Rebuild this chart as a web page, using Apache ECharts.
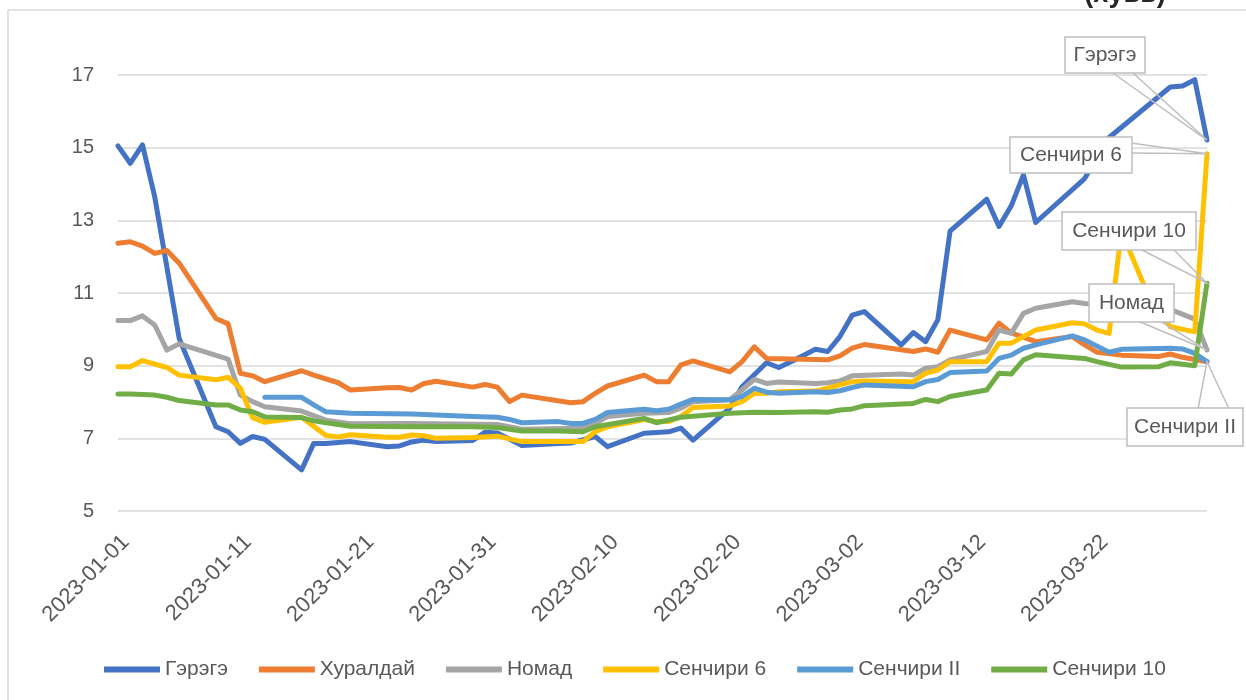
<!DOCTYPE html>
<html><head><meta charset="utf-8">
<script src="https://cdn.jsdelivr.net/npm/echarts/dist/echarts.min.js"></script>
<style>html,body{margin:0;padding:0;background:#fff}#c{width:1246px;height:700px}</style>
</head><body><div id="c"></div>
<script>
// ---- data ----
const startYear = 2023, dayCount = 90;
const yTicks = [5, 7, 9, 11, 13, 15, 17];
const seriesNames = ['Гэрэгэ', 'Хуралдай', 'Номад', 'Сенчири 6', 'Сенчири II', 'Сенчири 10'];
// [day index from 2023-01-01, value]
const gerege = [[0,15.05],[1,14.57],[2,15.08],[3,13.65],[5,9.75],[8,7.32],[9,7.18],[10,6.86],[11,7.05],[12,6.97],[15,6.13],[16,6.86],[17,6.86],[19,6.91],[22,6.77],[23,6.79],[24,6.9],[25,6.95],[26,6.91],[29,6.94],[30,7.17],[31,7.15],[33,6.8],[36,6.86],[37,6.87],[39,7.05],[40,6.77],[43,7.14],[45,7.18],[46,7.28],[47,6.95],[50,7.83],[51,8.42],[53,9.08],[54,8.95],[55,9.11],[57,9.45],[58,9.39],[59,9.8],[60,10.39],[61,10.49],[64,9.57],[65,9.91],[66,9.66],[67,10.26],[68,12.7],[71,13.58],[72,12.83],[73,13.4],[74,14.25],[75,12.94],[79,14.15],[81,15.28],[86,16.67],[87,16.7],[88,16.87],[89,15.21]];
const khuraldai = [[0,12.37],[1,12.41],[2,12.29],[3,12.09],[4,12.17],[5,11.82],[8,10.3],[9,10.15],[10,8.79],[11,8.72],[12,8.56],[15,8.86],[16,8.74],[18,8.53],[19,8.33],[22,8.39],[23,8.4],[24,8.33],[25,8.51],[26,8.57],[29,8.41],[30,8.48],[31,8.41],[32,8.01],[33,8.19],[37,7.98],[38,8.01],[39,8.24],[40,8.44],[43,8.74],[44,8.56],[45,8.56],[46,9.02],[47,9.13],[50,8.83],[51,9.11],[52,9.52],[53,9.2],[57,9.17],[58,9.16],[59,9.27],[60,9.48],[61,9.58],[65,9.39],[66,9.46],[67,9.37],[68,9.98],[71,9.71],[72,10.17],[73,9.9],[75,9.66],[78,9.8],[79,9.57],[80,9.37],[82,9.29],[85,9.25],[86,9.32],[87,9.23],[89,9.11]];
const nomad = [[0,10.24],[1,10.24],[2,10.37],[3,10.12],[4,9.43],[5,9.6],[9,9.18],[10,8.19],[11,8.01],[12,7.87],[15,7.75],[17,7.5],[19,7.4],[24,7.41],[31,7.38],[33,7.25],[38,7.28],[39,7.41],[40,7.6],[43,7.69],[45,7.71],[46,7.83],[47,8.01],[50,8.06],[51,8.33],[52,8.62],[53,8.51],[54,8.55],[57,8.51],[58,8.53],[59,8.58],[60,8.72],[64,8.77],[65,8.74],[66,8.93],[67,8.97],[68,9.16],[71,9.39],[72,9.98],[73,9.89],[74,10.44],[75,10.58],[78,10.76],[79,10.71],[82,10.65],[86,10.55],[88,10.28],[89,9.43]];
const senchiri6 = [[0,8.97],[1,8.97],[2,9.14],[4,8.95],[5,8.74],[8,8.61],[9,8.68],[10,8.38],[11,7.57],[12,7.44],[15,7.58],[17,7.08],[18,7.04],[19,7.1],[22,7.03],[23,7.03],[24,7.09],[25,7.07],[26,7.0],[29,7.02],[31,7.06],[33,6.91],[36,6.91],[38,6.91],[39,7.18],[40,7.32],[43,7.52],[44,7.46],[45,7.46],[46,7.6],[47,7.85],[50,7.89],[51,8.01],[52,8.24],[53,8.24],[54,8.28],[57,8.3],[58,8.38],[59,8.47],[60,8.56],[61,8.58],[65,8.56],[66,8.79],[67,8.88],[68,9.11],[71,9.11],[72,9.62],[73,9.62],[74,9.8],[75,9.98],[78,10.18],[79,10.15],[80,9.98],[81,9.89],[82,12.7],[84,11.1],[86,10.07],[88,9.93],[89,14.83]];
const senchiriII = [[12,8.13],[15,8.13],[16,7.92],[17,7.73],[19,7.69],[24,7.67],[26,7.64],[29,7.6],[31,7.58],[32,7.52],[33,7.43],[36,7.46],[37,7.41],[38,7.41],[39,7.52],[40,7.71],[43,7.8],[44,7.76],[45,7.8],[46,7.94],[47,8.07],[50,8.06],[51,8.15],[52,8.38],[53,8.27],[54,8.24],[57,8.28],[58,8.26],[59,8.31],[60,8.4],[61,8.47],[65,8.42],[66,8.56],[67,8.62],[68,8.81],[71,8.85],[72,9.2],[73,9.29],[74,9.48],[75,9.57],[78,9.82],[79,9.71],[81,9.37],[82,9.45],[86,9.48],[87,9.46],[88,9.34],[89,9.11]];
const senchiri10 = [[0,8.22],[1,8.22],[3,8.19],[4,8.13],[5,8.04],[8,7.92],[9,7.92],[10,7.78],[11,7.73],[12,7.59],[15,7.57],[16,7.48],[17,7.43],[19,7.33],[24,7.32],[29,7.32],[31,7.3],[33,7.2],[36,7.2],[38,7.18],[39,7.32],[43,7.55],[44,7.43],[46,7.58],[50,7.69],[52,7.72],[54,7.71],[57,7.73],[58,7.72],[59,7.78],[60,7.81],[61,7.9],[65,7.96],[66,8.07],[67,8.01],[68,8.15],[71,8.33],[72,8.79],[73,8.77],[74,9.16],[75,9.3],[79,9.2],[80,9.11],[82,8.96],[85,8.97],[86,9.08],[88,9.0],[89,11.27]];
const seriesData = [gerege, khuraldai, nomad, senchiri6, senchiriII, senchiri10];
const colors = ['#4472C4', '#ED7D31', '#A5A5A5', '#FFC000', '#5B9BD5', '#70AD47'];

const categories = [];
for (let i = 0; i < dayCount; i++) {
  const d = new Date(Date.UTC(startYear, 0, 1 + i));
  categories.push(d.toISOString().slice(0, 10));
}

const FONT = '"Liberation Sans", Arial, sans-serif';
const TXT = '#595959';
const chart = echarts.init(document.getElementById('c'), null, {renderer: 'canvas'});
chart.setOption({
  animation: false,
  backgroundColor: '#fff',
  grid: {left: 118, right: 39, top: 75, bottom: 189, containLabel: false},
  xAxis: {
    type: 'category', data: categories, boundaryGap: false,
    axisLine: {show: false}, axisTick: {show: false},
    axisLabel: {interval: 9, rotate: 45, fontSize: 22, color: TXT, fontFamily: FONT, margin: 20, align: 'right', verticalAlign: 'top'},
    splitLine: {show: false}
  },
  yAxis: {
    type: 'value', min: yTicks[0], max: yTicks[yTicks.length - 1], interval: 2,
    axisLine: {show: false}, axisTick: {show: false},
    axisLabel: {fontSize: 20, color: TXT, fontFamily: FONT, margin: 24},
    splitLine: {lineStyle: {color: '#D9D9D9', width: 1.5}}
  },
  legend: {
    left: 99, top: 654, icon: 'rect', itemWidth: 56, itemHeight: 6, itemGap: 31,
    textStyle: {fontSize: 21, color: TXT, fontFamily: FONT},
    data: seriesNames
  },
  series: seriesNames.map((n, i) => ({
    name: n, type: 'line', data: seriesData[i], showSymbol: false, connectNulls: true,
    color: colors[i],
    lineStyle: {width: 5, color: colors[i], cap: 'round', join: 'round'}
  }))
});

// callouts at last points
const callouts = [
  {idx: 0, box: [1065, 37, 80, 36], wedge: [[1113, 73], [1133, 73]]},
  {idx: 3, box: [1010, 137, 122, 36], wedge: [[1131, 143], [1131, 153]]},
  {idx: 5, box: [1062, 212, 134, 38], wedge: [[1140, 249], [1173, 249]]},
  {idx: 2, box: [1089, 284, 85, 38], wedge: [[1138, 321], [1160, 321]]},
  {idx: 4, box: [1127, 408, 116, 38], wedge: [[1198, 409], [1229, 409]]}
];
const graphics = [
  {type: 'rect', silent: true, z: 0, shape: {x: 8, y: 10, width: 1300, height: 800}, style: {fill: 'none', stroke: '#D9D9D9', lineWidth: 1.5}},
  {type: 'text', silent: true, z: 200, style: {text: '(хувь)', x: 1125, y: 8, align: 'center', verticalAlign: 'bottom', font: 'bold 27px ' + FONT, fill: '#262626'}}
];
callouts.forEach(c => {
  const d = seriesData[c.idx];
  const last = d[d.length - 1];
  const p = chart.convertToPixel({gridIndex: 0}, [last[0], last[1]]);
  graphics.push({type: 'polyline', silent: true, z: 150, shape: {points: [c.wedge[0], p, c.wedge[1]]}, style: {stroke: '#BFBFBF', lineWidth: 1.5, fill: null}});
  graphics.push({type: 'rect', silent: true, z: 151, shape: {x: c.box[0], y: c.box[1], width: c.box[2], height: c.box[3]}, style: {fill: '#fff', stroke: '#BFBFBF', lineWidth: 1.5}});
  graphics.push({type: 'text', silent: true, z: 152, style: {text: seriesNames[c.idx], x: c.box[0] + c.box[2] / 2, y: c.box[1] + c.box[3] / 2, align: 'center', verticalAlign: 'middle', font: '21px ' + FONT, fill: TXT}});
});
chart.setOption({graphic: graphics});
</script>
</body></html>
